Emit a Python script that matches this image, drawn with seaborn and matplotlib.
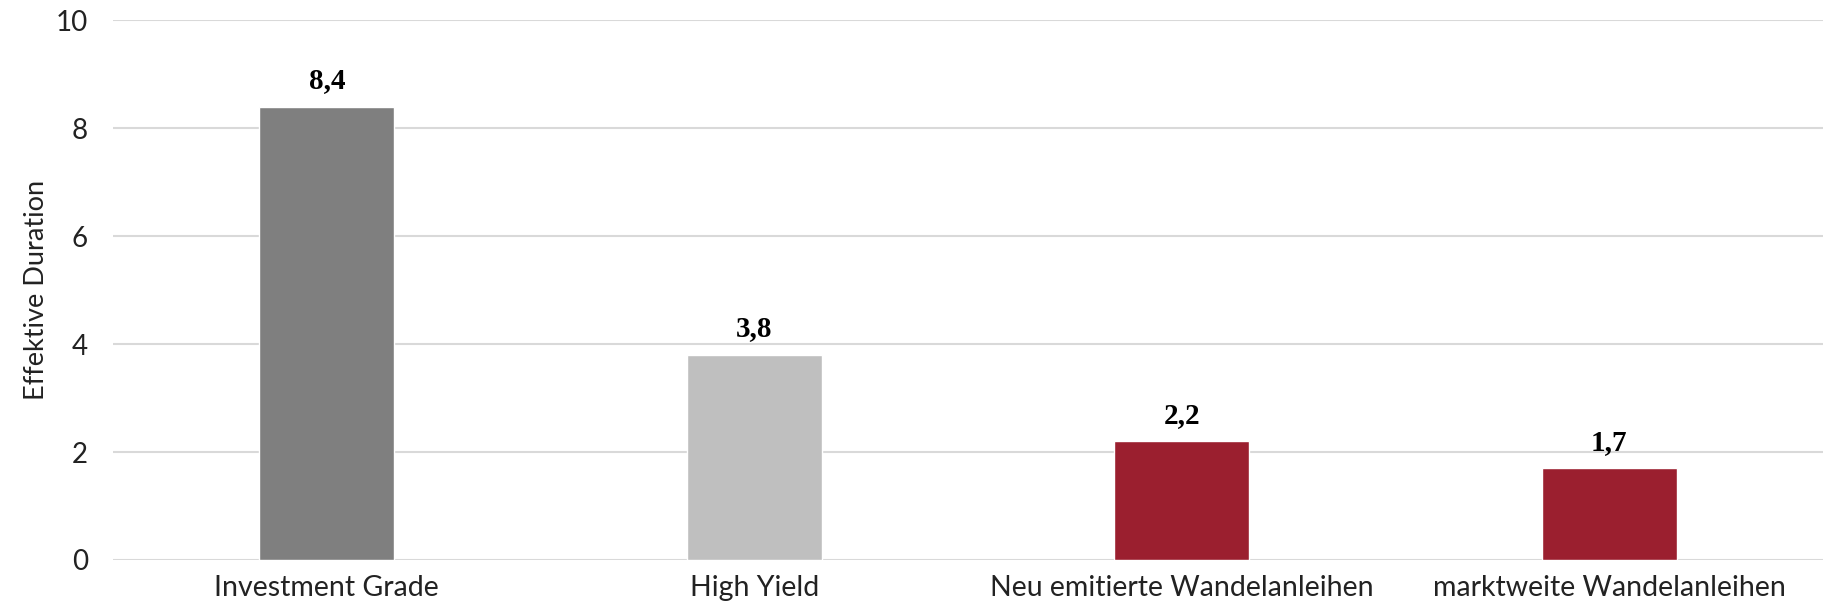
import matplotlib
matplotlib.use("Agg")
import matplotlib.pyplot as plt
import seaborn as sns
import pandas as pd

categories = ["Investment Grade", "High Yield", "Neu emitierte Wandelanleihen", "marktweite Wandelanleihen"]
values = [8.4, 3.8, 2.2, 1.7]
labels = ["8,4", "3,8", "2,2", "1,7"]
colors = ["#7F7F7F", "#BFBFBF", "#9B1F2F", "#9B1F2F"]
yticks = [0, 2, 4, 6, 8, 10]

sns.set_theme(style="white")
plt.rcParams['font.family'] = ['Lato', 'DejaVu Sans']

df = pd.DataFrame({"cat": categories, "val": values})
fig = plt.figure(figsize=(18.33, 6.14), dpi=100)
ax = fig.add_axes([0.0617, 0.088, 0.9328, 0.879])
sns.barplot(data=df, x="cat", y="val", hue="cat", palette=colors, width=0.316,
            legend=False, ax=ax, saturation=1)
ax.set_ylim(0, 10)
ax.set_xlim(-0.5, 3.5)
ax.set_yticks(yticks)
ax.set_yticklabels([str(t) for t in yticks], fontsize=20, color="#222222")
ax.yaxis.grid(True, color="#D9D9D9", linewidth=1.5)
ax.set_axisbelow(True)
for s in ax.spines.values():
    s.set_visible(False)
ax.tick_params(axis="y", length=0, pad=18)
ax.tick_params(axis="x", length=0, pad=11)
ax.set_xticks(range(len(categories)))
ax.set_xticklabels(categories, fontsize=20.5, color="#222222")
ax.set_xlabel("")
ax.set_ylabel("Effektive Duration", fontsize=19.5, color="#222222", labelpad=5)
for p, lab in zip(ax.patches, labels):
    ax.annotate(lab, (p.get_x() + p.get_width() / 2, p.get_height()),
                xytext=(0, 9), textcoords="offset points", ha="center", va="bottom",
                fontsize=21, fontweight="bold", family="Liberation Serif", color="black")
fig.savefig("out.png", dpi=100)
